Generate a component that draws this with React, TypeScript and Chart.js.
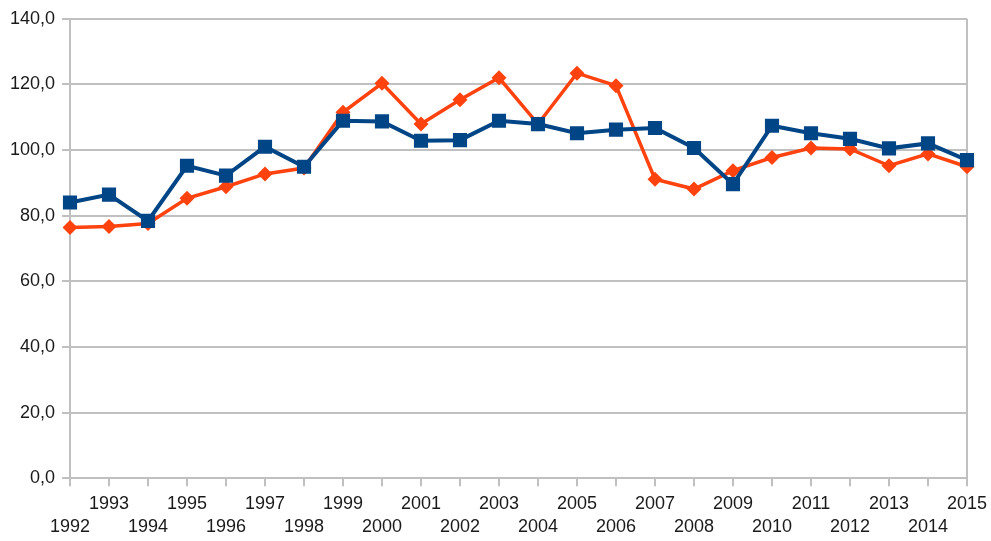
import { useEffect, useRef } from "react";
import Chart from "chart.js/auto";

const years = [
  1992, 1993, 1994, 1995, 1996, 1997, 1998, 1999, 2000, 2001, 2002, 2003,
  2004, 2005, 2006, 2007, 2008, 2009, 2010, 2011, 2012, 2013, 2014, 2015,
];

const blueSeries = [
  84.0, 86.4, 78.4, 95.2, 92.2, 101.0, 94.9, 108.9, 108.7, 102.8, 103.0, 108.9,
  107.9, 105.1, 106.2, 106.7, 100.6, 89.6, 107.4, 105.1, 103.4, 100.5, 102.0, 96.9,
];

const orangeSeries = [
  76.4, 76.7, 77.6, 85.3, 88.8, 92.7, 94.5, 111.5, 120.3, 107.9, 115.3, 122.0,
  107.9, 123.4, 119.6, 91.1, 88.1, 93.7, 97.7, 100.6, 100.3, 95.2, 98.8, 94.9,
];

// odd years on the first row, even years on the second row
const yearLabels = years.map((y) => (y % 2 === 1 ? [String(y)] : ["", String(y)]));

export default function App() {
  const canvasRef = useRef<HTMLCanvasElement>(null);
  const chartRef = useRef<Chart | null>(null);

  useEffect(() => {
    document.body.style.margin = "0";
    if (!canvasRef.current) return;
    if (chartRef.current) chartRef.current.destroy();

    const ctx = canvasRef.current.getContext("2d");
    if (!ctx) return;

    const gridGray = "#c0c0c0";
    const last = years.length - 1;
    const tickFont = { family: "Liberation Sans", size: 18, lineHeight: 1.3 };

    chartRef.current = new Chart(ctx, {
      type: "line",
      data: {
        labels: yearLabels,
        datasets: [
          {
            label: "Série 1",
            data: blueSeries,
            borderColor: "#004586",
            backgroundColor: "#004586",
            borderWidth: 4,
            pointStyle: "rect",
            pointRadius: 10,
            pointBorderWidth: 0,
            tension: 0,
          },
          {
            label: "Série 2",
            data: orangeSeries,
            borderColor: "#ff420e",
            backgroundColor: "#ff420e",
            borderWidth: 3.5,
            pointStyle: "rectRot",
            pointRadius: 7.5,
            pointBorderWidth: 0,
            tension: 0,
          },
        ],
      },
      options: {
        animation: false,
        responsive: true,
        maintainAspectRatio: false,
        layout: {
          padding: { left: 0, right: 0, top: 17, bottom: 2 },
        },
        plugins: {
          legend: { display: false },
          tooltip: { enabled: false },
        },
        scales: {
          x: {
            offset: false,
            border: { display: false },
            afterFit: (s) => {
              s.height -= 6;
              s.paddingRight = 24;
            },
            grid: {
              color: (c) => (c.index === 0 || c.index === last ? gridGray : "rgba(0,0,0,0)"),
              tickColor: gridGray,
              tickLength: 8,
              lineWidth: 2,
            },
            ticks: {
              autoSkip: false,
              maxRotation: 0,
              minRotation: 0,
              color: "#1a1a1a",
              padding: 6,
              font: tickFont,
            },
          },
          y: {
            min: 0,
            max: 140,
            border: { display: false },
            afterFit: (s) => {
              s.width = 70;
            },
            grid: {
              color: gridGray,
              tickColor: gridGray,
              tickLength: 8,
              lineWidth: 2,
            },
            ticks: {
              stepSize: 20,
              color: "#1a1a1a",
              padding: 7,
              font: tickFont,
              callback: (v) => Number(v).toFixed(1).replace(".", ","),
            },
          },
        },
      },
    });

    return () => {
      if (chartRef.current) {
        chartRef.current.destroy();
        chartRef.current = null;
      }
    };
  }, []);

  return (
    <div style={{ width: 991, height: 541, position: "relative" }}>
      <canvas ref={canvasRef}></canvas>
    </div>
  );
}
